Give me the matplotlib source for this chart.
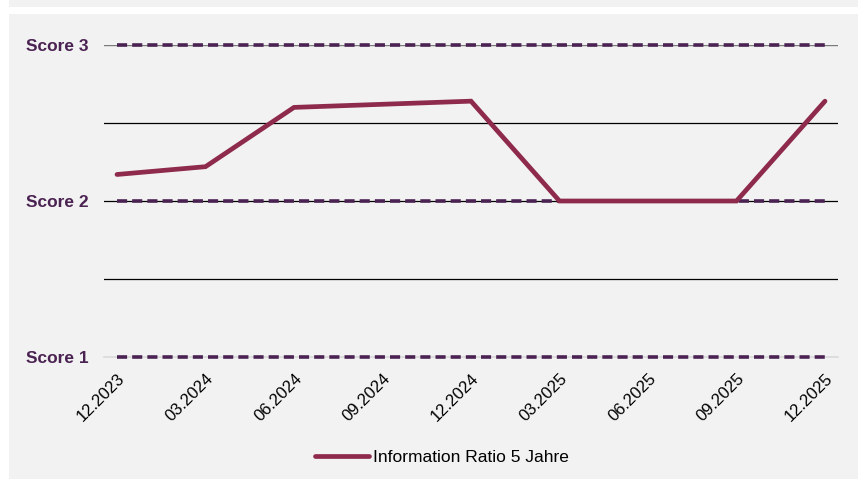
import matplotlib.pyplot as plt
from matplotlib.patches import Rectangle

plt.rcParams['font.family'] = ['Liberation Sans', 'DejaVu Sans']

quarters = ['12.2023', '03.2024', '06.2024', '09.2024', '12.2024',
            '03.2025', '06.2025', '09.2025', '12.2025']
info_ratio = [2.17, 2.22, 2.60, 2.62, 2.64, 2.0, 2.0, 2.0, 2.64]
score_levels = [1, 2, 3]
score_labels = ['Score 1', 'Score 2', 'Score 3']

W, H = 858, 479
fig = plt.figure(figsize=(W / 100, H / 100), dpi=100)
fig.patch.set_facecolor('white')

# grey panels
fig.patches.append(Rectangle((9 / W, 0), 1 - 9 / W, 1 - 14 / H, transform=fig.transFigure,
                             facecolor='#f2f2f2', edgecolor='none', zorder=-10))
fig.patches.append(Rectangle((9 / W, 1 - 7 / H), 1 - 9 / W, 7 / H, transform=fig.transFigure,
                             facecolor='#f2f2f2', edgecolor='none', zorder=-10))

ax = fig.add_axes([104 / W, 1 - 357 / H, (838 - 104) / W, (357 - 45) / H])
ax.set_facecolor('none')

x = list(range(len(quarters)))
ax.set_xlim(-0.147, len(quarters) - 1 + 0.147)
ax.set_ylim(1, 3)

# grid
for y in [1.5, 2, 2.5]:
    ax.axhline(y, color='black', lw=0.9, zorder=1)
ax.axhline(3, color='#7a7a7a', lw=1.0, zorder=1)
ax.axhline(1, color='#d9d9d9', lw=1.2, zorder=1, clip_on=False)

for lvl in score_levels:
    ax.plot([0, len(quarters) - 1], [lvl, lvl], color='#4b2352', lw=2.6,
            dashes=[2.8, 1.4], dash_capstyle='butt', zorder=2, clip_on=False)

ax.plot(x, info_ratio, color='#8e2a4b', lw=3.4, solid_capstyle='round',
        solid_joinstyle='miter', zorder=3, clip_on=False,
        label='Information Ratio 5 Jahre')

for s in ax.spines.values():
    s.set_visible(False)

ax.set_yticks(score_levels)
ax.set_yticklabels(score_labels, fontsize=12.5, fontweight='bold', color='#4b2352')
ax.set_xticks(x)
ax.set_xticklabels(quarters, rotation=45, ha='right', rotation_mode='anchor', fontsize=12)
ax.tick_params(length=0)
ax.tick_params(axis='y', pad=11)
ax.tick_params(axis='x', pad=10)

fig.legend(loc='center', bbox_to_anchor=(442 / W, 1 - 457 / H), frameon=False,
           fontsize=12.5, handlelength=3.1, handletextpad=0.2)

fig.savefig('out.png', dpi=100)
